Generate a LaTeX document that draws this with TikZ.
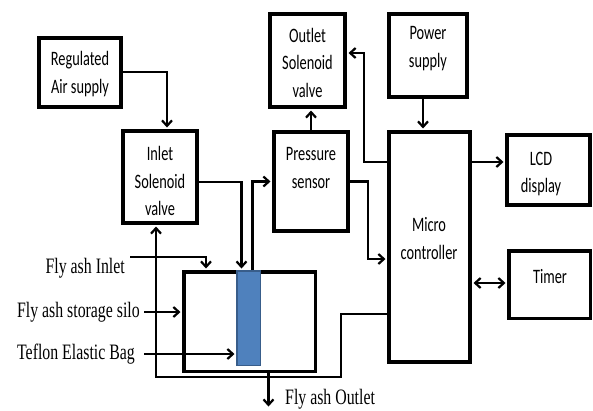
\documentclass[tikz,border=0pt]{standalone}
\usepackage{fontspec}
\newfontfamily\blkfont[FakeStretch=0.7]{Carlito}
\newfontfamily\lblfont[FakeStretch=0.72]{Liberation Serif}
\usepackage{tikz}
\usetikzlibrary{arrows.meta,positioning}
\usepackage{xcolor}
\definecolor{bagblue}{RGB}{79,129,189}
\definecolor{bagedge}{RGB}{56,93,138}

\tikzset{
    blk/.style={draw, rectangle, line width=4pt, inner sep=0pt},
    blktext/.style={font=\blkfont\fontsize{20.5}{27.5}\selectfont, align=center, inner sep=0pt},
    lbl/.style={font=\lblfont\fontsize{22}{24}\selectfont, inner sep=0pt, anchor=east},
    conn/.style={line width=2.2pt, shorten >=1.5pt, -{Straight Barb[length=5.5pt,width=10pt]}},
    both/.style={line width=2.2pt, {Straight Barb[length=5.5pt,width=10pt]}-{Straight Barb[length=5.5pt,width=10pt]}}
}

\begin{document}
\begin{tikzpicture}[x=1pt, y=-1pt]
    \useasboundingbox (0,0) rectangle (593,410);

    \node[blk, minimum width=82pt, minimum height=69pt] (reg) at (80,72.5) {};
    \node[blk, minimum width=74pt, minimum height=92pt] (inlet) at (160,177) {};
    \node[blk, minimum width=75pt, minimum height=93pt] (outlet) at (307.5,60.5) {};
    \node[blk, minimum width=78pt, minimum height=83pt] (power) at (428,55.5) {};
    \node[blk, minimum width=74pt, minimum height=99pt] (press) at (311,181.5) {};
    \node[blk, minimum width=81pt, minimum height=230pt] (micro) at (429.5,247) {};
    \node[blk, minimum width=83pt, minimum height=70pt] (lcd) at (548.5,170) {};
    \node[blk, line width=3.5pt, minimum width=81.5pt, minimum height=67.5pt] (timer) at (549.5,284.5) {};
    \node[blk, line width=3.5pt, minimum width=131.5pt, minimum height=99.5pt] (chamber) at (249.5,321.5) {};
    \node[rectangle, fill=bagblue, draw=bagedge, line width=1.5pt, inner sep=0pt,
          minimum width=23.5pt, minimum height=94.5pt] (bag) at (248.5,318) {};

    \node[blktext] (regT) at (80,74) {Regulated\\Air supply};
    \node[blktext] (inletT) at (160,181) {Inlet\\Solenoid\\valve};
    \node[blktext] (outletT) at (307.5,62.5) {Outlet\\Solenoid\\valve};
    \node[blktext] (powerT) at (428,48.5) {Power\\supply};
    \node[blktext] (pressT) at (311,168) {Pressure\\sensor};
    \node[blktext] (microT) at (429,238.5) {Micro\\controller};
    \node[blktext] (lcdT) at (541,174) {LCD\\display};
    \node[blktext] (timerT) at (550,277) {Timer};

    \node[lbl] (inL) at (125,268) {Fly ash Inlet};
    \node[lbl] (siloL) at (140,312) {Fly ash storage silo};
    \node[lbl] (bagL) at (135,354) {Teflon Elastic Bag};
    \node[lbl, anchor=west] (outL) at (285,399) {Fly ash Outlet};

    \coordinate (ret) at (341,377);
    \coordinate (outEnd) at (268.5,408);

    \draw[conn] ([yshift=0.5pt]reg.east) -| ([xshift=7pt]inlet.north);
    \draw[conn] ([yshift=-5pt]inlet.east) -| ([xshift=-7pt]bag.north);
    \draw[conn] ([xshift=4pt]bag.north) |- (press.west);
    \draw[conn] (press.north) -- (press.north |- outlet.south);
    \draw[conn] (press.east) -- ++(18,0) |- ([yshift=-12pt]micro.west);
    \draw[conn] ([yshift=85pt]micro.west) -- ++(-23,0) |- ([yshift=7.5pt]outlet.east);
    \draw[conn] ([xshift=-5pt]power.south) -- ([xshift=-5pt]power.south |- micro.north);
    \draw[conn] ([yshift=85pt]micro.east) -- ([yshift=85pt]micro.east -| lcd.west);
    \draw[both, shorten <=1.5pt, shorten >=1.5pt] ([yshift=-36pt]micro.east) -- ([yshift=-36pt]micro.east -| timer.west);
    \draw[conn] ([yshift=-67pt]micro.west) -| (ret) -| ([xshift=-4pt]inlet.south);

    \draw[conn] ([shift={(5pt,11pt)}]inL.east) -| ([xshift=-43.5pt]chamber.north);
    \draw[conn] ([xshift=4pt]siloL.east) -- (siloL.east -| chamber.west);
    \draw[conn] ([xshift=9pt]bagL.east) -- (bagL.east -| bag.west);
    \draw[conn] (chamber.south -| outEnd) -- (outEnd);
\end{tikzpicture}
\end{document}
